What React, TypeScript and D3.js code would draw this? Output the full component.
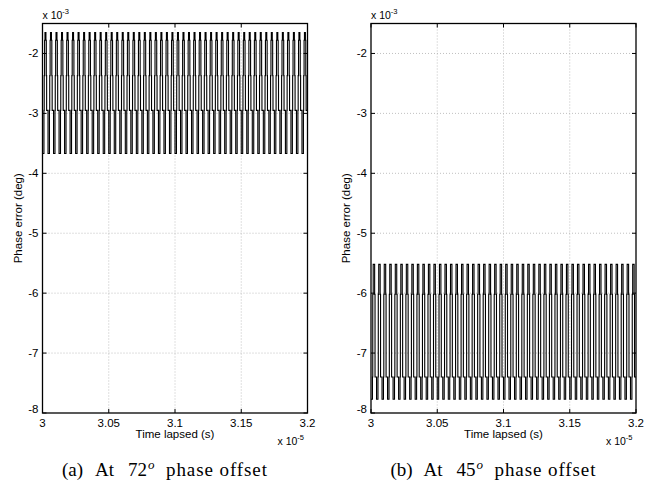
import React from "react";
import * as d3 from "d3";

// x axis in units of 1e-5 s, y axis in units of 1e-3 deg
const xTicks = [3, 3.05, 3.1, 3.15, 3.2];
const xTickLabels = ["3", "3.05", "3.1", "3.15", "3.2"];
const yTicks = [-8, -7, -6, -5, -4, -3, -2];
const yTickLabels = ["-8", "-7", "-6", "-5", "-4", "-3", "-2"];
const xDomain = [3, 3.2];
const yDomain = [-8, -1.5];

// one cycle of the periodic step waveform (fraction of period, level)
const periodsA = 48;
const cycleFracA = [0, 0.26, 0.31, 0.38, 0.45, 0.62, 0.69, 0.75];
const cycleLevelsA = [-3.67, -2.95, -2.37, -1.78, -1.65, -1.78, -2.37, -2.95];

const periodsB = 48;
const cycleFracB = [0, 0.26, 0.32, 0.4, 0.66, 0.73];
const cycleLevelsB = [-7.77, -7.4, -6.02, -5.52, -6.02, -7.4];

const captionLabels = ["(a)", "(b)"];
const captionAngles = ["72", "45"];

type Pt = { x: number; y: number };

function buildSeries(periods: number, frac: number[], levels: number[]): Pt[] {
  const pts: Pt[] = [];
  const span = xDomain[1] - xDomain[0];
  const T = span / periods;
  for (let k = 0; k < periods; k++) {
    frac.forEach((f, i) => pts.push({ x: xDomain[0] + (k + f) * T, y: levels[i] }));
  }
  pts.push({ x: xDomain[1], y: levels[levels.length - 1] });
  return pts;
}

const W = 664;
const H = 484;
const top = 23.5;
const bottom = 413;
const axes = [
  { left: 42.5, right: 307.5, data: buildSeries(periodsA, cycleFracA, cycleLevelsA), lab: captionLabels[0], ang: captionAngles[0] },
  { left: 371, right: 636, data: buildSeries(periodsB, cycleFracB, cycleLevelsB), lab: captionLabels[1], ang: captionAngles[1] },
];

const sans = "'Liberation Sans', Arial, Helvetica, sans-serif";
const serif = "'Liberation Serif', 'Times New Roman', serif";

function Panel({ left, right, data, lab, ang }: { left: number; right: number; data: Pt[]; lab: string; ang: string }) {
  const x = d3.scaleLinear().domain(xDomain).range([left, right]);
  const y = d3.scaleLinear().domain(yDomain).range([bottom, top]);
  const line = d3
    .line<Pt>()
    .x((d) => x(d.x))
    .y((d) => y(d.y))
    .curve(d3.curveStepAfter);
  const cx = (left + right) / 2;
  const tl = 4;
  const cy = 476;
  const fs = 19;
  return (
    <g>
      {/* grid */}
      {xTicks.slice(1, -1).map((t) => (
        <line key={"gx" + t} x1={x(t)} x2={x(t)} y1={top} y2={bottom} stroke="#b0b0b0" strokeWidth={0.8} strokeDasharray="1,2" />
      ))}
      {yTicks.slice(1).map((t) => (
        <line key={"gy" + t} x1={left} x2={right} y1={y(t)} y2={y(t)} stroke="#b0b0b0" strokeWidth={0.8} strokeDasharray="1,2" />
      ))}
      {/* data */}
      <path d={line(data) || ""} fill="none" stroke="#000" strokeWidth={1.1} />
      {/* ticks */}
      {xTicks.map((t) => (
        <g key={"tx" + t}>
          <line x1={x(t)} x2={x(t)} y1={bottom} y2={bottom - tl} stroke="#000" />
          <line x1={x(t)} x2={x(t)} y1={top} y2={top + tl} stroke="#000" />
        </g>
      ))}
      {yTicks.map((t) => (
        <g key={"ty" + t}>
          <line x1={left} x2={left + tl} y1={y(t)} y2={y(t)} stroke="#000" />
          <line x1={right} x2={right - tl} y1={y(t)} y2={y(t)} stroke="#000" />
        </g>
      ))}
      <rect x={left} y={top} width={right - left} height={bottom - top} fill="none" stroke="#000" strokeWidth={1.3} />
      {/* tick labels */}
      {xTicks.map((t, i) => (
        <text key={"lx" + t} x={x(t)} y={bottom + 14} textAnchor="middle" fontFamily={sans} fontSize={11.5}>
          {xTickLabels[i]}
        </text>
      ))}
      {yTicks.map((t, i) => (
        <text
          key={"ly" + t}
          x={left - 4}
          y={y(t) + 4 - (i === 0 ? 4 : 0)}
          textAnchor="end"
          fontFamily={sans}
          fontSize={11.5}
        >
          {yTickLabels[i]}
        </text>
      ))}
      {/* multipliers */}
      <text x={left} y={top - 4.5} fontFamily={sans} fontSize={10.5}>
        x 10<tspan dy={-5} fontSize={7.5}>-3</tspan>
      </text>
      <text x={right - 30} y={bottom + 32} fontFamily={sans} fontSize={10.5}>
        x 10<tspan dy={-5} fontSize={7.5}>-5</tspan>
      </text>
      {/* axis labels */}
      <text x={cx} y={bottom + 25} textAnchor="middle" fontFamily={sans} fontSize={11.5}>
        Time lapsed (s)
      </text>
      <text
        transform={`translate(${left - 21},${(top + bottom) / 2}) rotate(-90)`}
        textAnchor="middle"
        fontFamily={sans}
        fontSize={11.5}
      >
        Phase error (deg)
      </text>
      {/* caption */}
      <g fontFamily={serif} fontSize={fs}>
        <text x={cx - 113} y={cy}>{lab}</text>
        <text x={cx - 80} y={cy}>At</text>
        <text x={cx - 47} y={cy}>{ang}</text>
        <text x={cx - 27} y={cy - 7} fontSize={13} fontStyle="italic">o</text>
        <text x={cx - 9} y={cy} textLength={101} lengthAdjust="spacing">phase offset</text>
      </g>
    </g>
  );
}

export default function App() {
  return (
    <svg width={W} height={H} style={{ position: "absolute", left: 0, top: 0, background: "#fff" }}>
      <rect width={W} height={H} fill="#fff" />
      {axes.map((a, i) => (
        <Panel key={i} {...a} />
      ))}
    </svg>
  );
}
